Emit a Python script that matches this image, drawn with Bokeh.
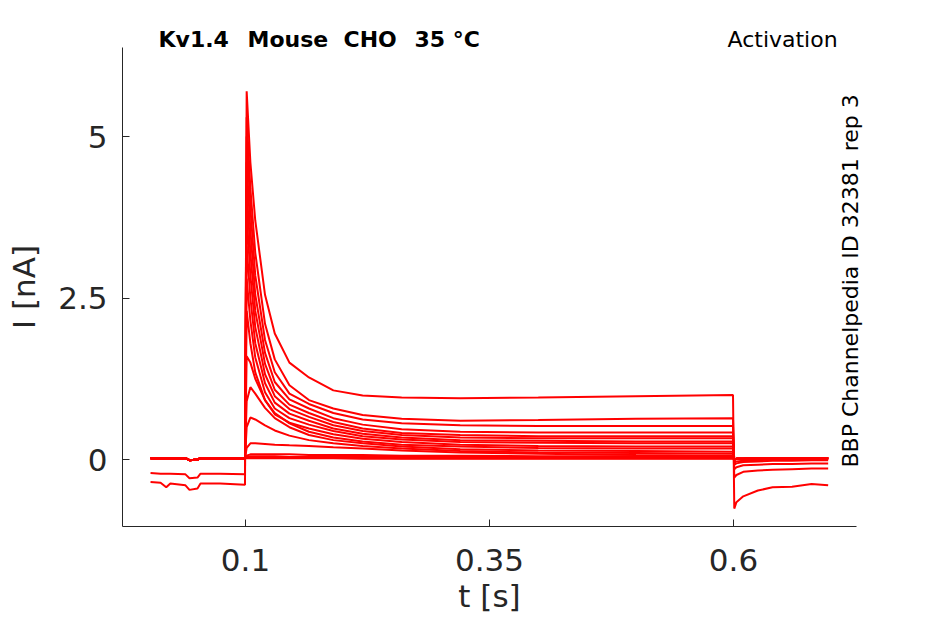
import math
from bokeh.plotting import figure
from bokeh.models import (Label, FixedTicker, Range1d, NumeralTickFormatter,
                          ColumnDataSource, LinearAxis)
from bokeh.embed import file_html
from bokeh.resources import INLINE

# ---------------- data ----------------
# time points [s]
t_pre = [0.0027, 0.013, 0.0188, 0.023, 0.0385, 0.0426, 0.0508, 0.0539, 0.074, 0.0995]
t_pulse = [0.1012, 0.105, 0.11, 0.12, 0.13, 0.145, 0.165, 0.19, 0.22, 0.26, 0.32, 0.4, 0.5, 0.5995]
t_tail = [0.6008, 0.603, 0.61, 0.625, 0.64, 0.66, 0.68, 0.697]

# holding current before the step [nA]
pre_s01 = [-0.35, -0.36, -0.43, -0.37, -0.40, -0.47, -0.45, -0.37, -0.37, -0.39]
pre_s02 = [-0.21, -0.22, -0.22, -0.22, -0.23, -0.29, -0.28, -0.22, -0.22, -0.23]
pre_base = [0.02, 0.02, 0.02, 0.02, 0.02, -0.01, 0.00, 0.02, 0.02, 0.02]

# current during the activation step [nA]
pulse_s01 = [5.70, 4.60, 3.70, 2.55, 1.95, 1.50, 1.27, 1.07, 0.99, 0.96, 0.95, 0.96, 0.98, 1.00]
pulse_s02 = [5.30, 4.20, 3.20, 2.10, 1.55, 1.15, 0.92, 0.79, 0.69, 0.63, 0.60, 0.61, 0.63, 0.64]
pulse_s03 = [5.00, 3.90, 2.85, 1.85, 1.35, 1.02, 0.86, 0.72, 0.62, 0.56, 0.53, 0.52, 0.52, 0.52]
pulse_s04 = [4.60, 3.55, 2.55, 1.65, 1.20, 0.93, 0.79, 0.64, 0.54, 0.47, 0.43, 0.42, 0.42, 0.42]
pulse_s05 = [4.20, 3.20, 2.30, 1.48, 1.08, 0.85, 0.72, 0.58, 0.48, 0.41, 0.38, 0.36, 0.36, 0.36]
pulse_s06 = [3.80, 2.85, 2.05, 1.32, 0.98, 0.78, 0.66, 0.53, 0.44, 0.38, 0.34, 0.33, 0.33, 0.33]
pulse_s07 = [3.30, 2.50, 1.80, 1.18, 0.88, 0.71, 0.60, 0.48, 0.40, 0.34, 0.30, 0.29, 0.28, 0.28]
pulse_s08 = [2.80, 2.15, 1.58, 1.04, 0.79, 0.64, 0.54, 0.44, 0.36, 0.31, 0.27, 0.26, 0.25, 0.25]
pulse_s09 = [2.30, 1.80, 1.35, 0.92, 0.70, 0.57, 0.48, 0.39, 0.32, 0.27, 0.23, 0.21, 0.20, 0.20]
pulse_s10 = [1.60, 1.50, 1.25, 0.92, 0.72, 0.56, 0.43, 0.34, 0.28, 0.23, 0.20, 0.18, 0.17, 0.17]
pulse_s11 = [0.90, 1.12, 1.02, 0.80, 0.64, 0.50, 0.38, 0.30, 0.25, 0.20, 0.16, 0.14, 0.13, 0.12]
pulse_s12 = [0.50, 0.65, 0.62, 0.53, 0.45, 0.37, 0.30, 0.25, 0.21, 0.17, 0.13, 0.11, 0.10, 0.09]
pulse_s13 = [0.18, 0.25, 0.25, 0.24, 0.23, 0.22, 0.21, 0.19, 0.17, 0.14, 0.11, 0.09, 0.07, 0.06]
pulse_s14 = [0.06, 0.08, 0.08, 0.08, 0.08, 0.08, 0.07, 0.07, 0.07, 0.06, 0.06, 0.05, 0.05, 0.05]
pulse_s15 = [0.04, 0.05, 0.05, 0.05, 0.05, 0.04, 0.04, 0.04, 0.04, 0.04, 0.04, 0.04, 0.03, 0.03]
pulse_s16 = [0.03, 0.03, 0.03, 0.03, 0.03, 0.03, 0.03, 0.03, 0.03, 0.02, 0.02, 0.02, 0.02, 0.02]
pulse_s17 = [0.02, 0.02, 0.02, 0.02, 0.02, 0.02, 0.02, 0.02, 0.01, 0.01, 0.01, 0.01, 0.01, 0.01]

# tail current after the step [nA]
tail_s01 = [-0.76, -0.66, -0.57, -0.48, -0.43, -0.42, -0.38, -0.40]
tail_s02 = [-0.28, -0.24, -0.19, -0.17, -0.16, -0.15, -0.14, -0.14]
tail_s03 = [-0.15, -0.12, -0.09, -0.08, -0.07, -0.07, -0.06, -0.06]
tail_s04 = [-0.08, -0.06, -0.04, -0.03, -0.02, -0.02, -0.01, -0.01]
tail_s05 = [-0.05, -0.03, -0.02, -0.01, 0.00, 0.00, 0.00, 0.01]
tail_flat = [0.00, 0.01, 0.01, 0.02, 0.02, 0.02, 0.02, 0.02]

x_ticks = [0.1, 0.35, 0.6]
y_ticks = [0, 2.5, 5]
x_axis_span = (-0.02602, 0.72602)   # extent of the drawn x axis [s]
y_axis_span = (-1.037, 6.378)       # extent of the drawn y axis [nA]

sweeps = [
    (pre_s01, pulse_s01, tail_s01),
    (pre_s02, pulse_s02, tail_s02),
    (pre_base, pulse_s03, tail_s03),
    (pre_base, pulse_s04, tail_s04),
    (pre_base, pulse_s05, tail_s05),
    (pre_base, pulse_s06, tail_flat),
    (pre_base, pulse_s07, tail_flat),
    (pre_base, pulse_s08, tail_flat),
    (pre_base, pulse_s09, tail_flat),
    (pre_base, pulse_s10, tail_flat),
    (pre_base, pulse_s11, tail_flat),
    (pre_base, pulse_s12, tail_flat),
    (pre_base, pulse_s13, tail_flat),
    (pre_base, pulse_s14, tail_flat),
    (pre_base, pulse_s15, tail_flat),
    (pre_base, pulse_s16, tail_flat),
    (pre_base, pulse_s17, tail_flat),
]

t_all = t_pre + t_pulse + t_tail
xs = [t_all for _ in sweeps]
ys = [a + b + c for (a, b, c) in sweeps]
src = ColumnDataSource(dict(xs=xs, ys=ys))

# ---------------- figure ----------------
FONT = "DejaVu Sans"
TXT = "#262626"

W, H = 945, 624
LEFT, BOTTOM = 122, 98
PX_PER_S = 976.0
PX_PER_NA = 64.6
x_end = x_axis_span[0] + (W - LEFT) / PX_PER_S
y_end = y_axis_span[0] + (H - BOTTOM) / PX_PER_NA

p = figure(width=W, height=H,
           x_range=Range1d(x_axis_span[0], x_end),
           y_range=Range1d(y_axis_span[0], y_end),
           output_backend="svg", toolbar_location=None,
           min_border_left=LEFT, min_border_right=0,
           min_border_top=0, min_border_bottom=BOTTOM)
p.background_fill_color = "white"
p.border_fill_color = "white"
p.outline_line_color = None
p.xgrid.visible = False
p.ygrid.visible = False

p.multi_line(xs="xs", ys="ys", source=src, line_color="#ff0000", line_width=2.0)

def style_axis(ax):
    ax.axis_line_color = TXT
    ax.axis_line_width = 1
    ax.major_tick_line_color = TXT
    ax.major_tick_in = 7
    ax.major_tick_out = 0
    ax.minor_tick_in = 0
    ax.minor_tick_out = 0
    ax.major_label_text_font = FONT
    ax.major_label_text_font_size = "31px"
    ax.major_label_text_color = TXT

for ax in (p.xaxis[0], p.yaxis[0]):
    style_axis(ax)

p.xaxis.bounds = x_axis_span
p.yaxis.bounds = y_axis_span
p.xaxis.ticker = FixedTicker(ticks=x_ticks)
p.yaxis.ticker = FixedTicker(ticks=y_ticks)
p.xaxis.formatter = NumeralTickFormatter(format="0.[00]")
p.yaxis.formatter = NumeralTickFormatter(format="0.[0]")
p.xaxis.major_label_standoff = 22
p.yaxis.major_label_standoff = 15

# axis titles, centred on the drawn axis extent (outer label-only axes)
x_mid = (x_axis_span[0] + x_axis_span[1]) / 2
y_mid = (y_axis_span[0] + y_axis_span[1]) / 2

xlab = LinearAxis(ticker=FixedTicker(ticks=[x_mid]),
                  major_label_overrides={x_mid: "t [s]"})
style_axis(xlab)
xlab.axis_line_color = None
xlab.major_tick_line_color = None
xlab.major_label_standoff = 4
p.add_layout(xlab, "below")

ylab = LinearAxis(ticker=FixedTicker(ticks=[y_mid]),
                  major_label_overrides={y_mid: "I [nA]"},
                  major_label_orientation="vertical")
style_axis(ylab)
ylab.axis_line_color = None
ylab.major_tick_line_color = None
ylab.major_label_standoff = 13
p.add_layout(ylab, "left")

def add_label(text, x, y, size, bold=False, color="black", angle=0.0,
              align="left", baseline="alphabetic"):
    p.add_layout(Label(text=text, x=x, y=y, x_units="screen", y_units="screen",
                       text_font=FONT, text_font_size=size,
                       text_font_style="bold" if bold else "normal",
                       text_color=color, angle=angle, text_align=align,
                       text_baseline=baseline))

# header texts (screen offsets from the frame's bottom-left corner)
add_label("Kv1.4", 36, 487, "22px", bold=True)
add_label("Mouse", 125, 487, "22px", bold=True)
add_label("CHO", 221, 487, "22px", bold=True)
add_label("35 °C", 292, 487, "22px", bold=True)
add_label("Activation", 605, 487, "22px")
add_label("BBP Channelpedia ID 32381 rep 3", 728, 59, "22px", angle=math.pi / 2)

open("out.html", "w").write(file_html(p, INLINE))
